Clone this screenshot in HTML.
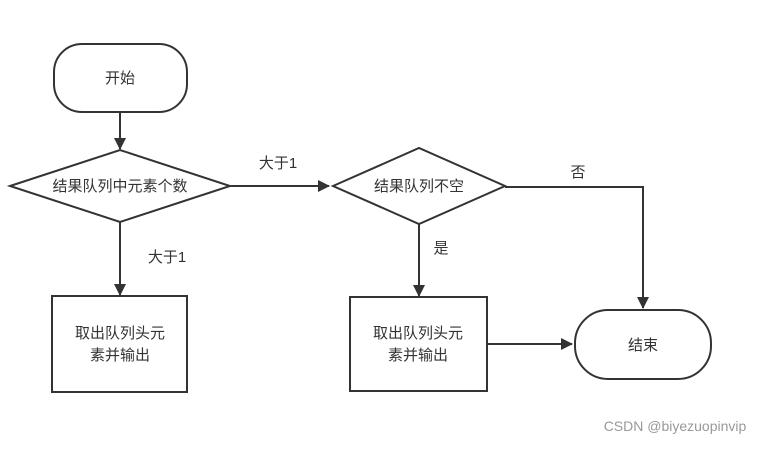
<!DOCTYPE html>
<html><head><meta charset="utf-8"><style>
body{margin:0;background:#fff;}
text{font-family:"Liberation Sans","Noto Sans CJK SC",sans-serif;fill:#333;}
</style></head><body>
<svg width="780" height="446" viewBox="0 0 780 446" xmlns="http://www.w3.org/2000/svg">
<defs><marker id="a" markerWidth="12" markerHeight="12" refX="11" refY="6" orient="auto" markerUnits="userSpaceOnUse"><path d="M0,0 L12,6 L0,12 Z" fill="#333"/></marker></defs>
<g fill="none" stroke="#333" stroke-width="2">
<rect x="54" y="44" width="133" height="68" rx="28"/>
<polygon points="10,186 120,150 230,186 120,222"/>
<polygon points="333,186 419,148 505,186 419,224"/>
<rect x="52" y="296" width="135" height="96"/>
<rect x="350" y="297" width="137" height="94"/>
<rect x="575" y="310" width="136" height="69" rx="33"/>
<line x1="120" y1="112" x2="120" y2="149" marker-end="url(#a)"/>
<line x1="230" y1="186" x2="329" y2="186" marker-end="url(#a)"/>
<line x1="120" y1="222" x2="120" y2="295" marker-end="url(#a)"/>
<line x1="419" y1="224" x2="419" y2="296" marker-end="url(#a)"/>
<line x1="487" y1="344" x2="572" y2="344" marker-end="url(#a)"/>
<polyline points="505,187 643,187 643,308" marker-end="url(#a)"/>
</g>
<g font-size="15" text-anchor="middle">
<text x="120" y="83">开始</text>
<text x="120" y="191">结果队列中元素个数</text>
<text x="419" y="191">结果队列不空</text>
<text x="120" y="338">取出队列头元</text>
<text x="120" y="360">素并输出</text>
<text x="418" y="338">取出队列头元</text>
<text x="418" y="360">素并输出</text>
<text x="643" y="350">结束</text>
<text x="278" y="168">大于1</text>
<text x="167" y="262">大于1</text>
<text x="441" y="253">是</text>
<text x="578" y="177">否</text>
</g>
<text x="675" y="431" font-size="14" text-anchor="middle" style="fill:#999">CSDN @biyezuopinvip</text>
</svg>
</body></html>
